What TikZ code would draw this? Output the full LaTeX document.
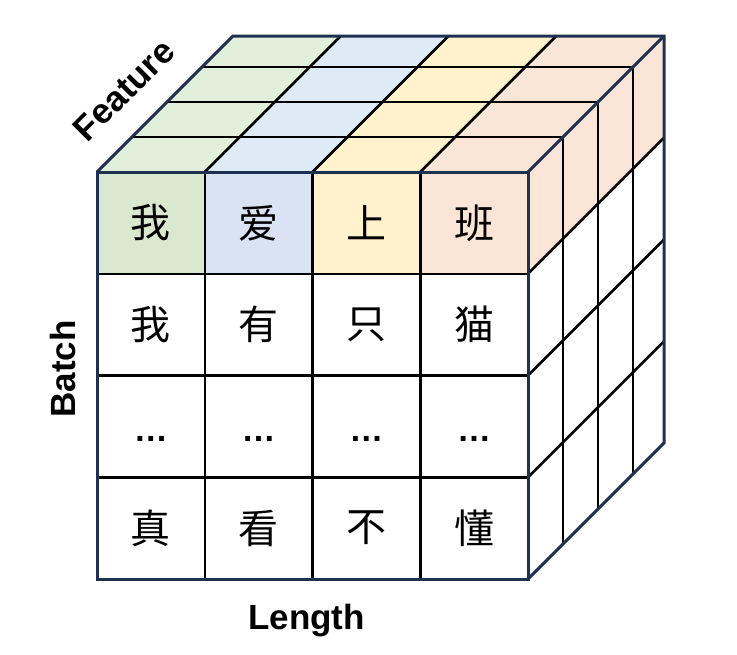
\documentclass[tikz,border=0pt]{standalone}
\usepackage{fontspec}
\setmainfont{Liberation Sans}
\newfontfamily\cjk{Noto Sans CJK SC}
\definecolor{navy}{HTML}{1F3150}
\definecolor{gtop}{HTML}{E2EFDA}
\definecolor{gfront}{HTML}{DAE8CF}
\definecolor{btop}{HTML}{DEEBF7}
\definecolor{bfront}{HTML}{DAE3F3}
\definecolor{ytop}{HTML}{FFF2CC}
\definecolor{ptop}{HTML}{FBE5D6}
\begin{document}
\begin{tikzpicture}[x=1pt,y=-1pt,
  outer/.style={draw=navy,line width=3pt,line join=miter},
  inner/.style={draw=black,line width=2.5pt},
  cell/.style={font=\cjk\fontsize{40}{44}\selectfont,inner sep=0pt},
  dots/.style={font=\bfseries\fontsize{34}{40}\selectfont,inner sep=0pt,anchor=base},
  lbl/.style={font=\bfseries\fontsize{35}{40}\selectfont,inner sep=0pt}]
\useasboundingbox (0,0) rectangle (737,654);
\def\W{107.75}
\def\H{101.75}
% top face fills
\fill[gtop] (97,172) -- ++(\W,0) -- ++(136,-136) -- ++(-\W,0) -- cycle;
\fill[btop] ({97+\W},172) -- ++(\W,0) -- ++(136,-136) -- ++(-\W,0) -- cycle;
\fill[ytop] ({97+2*\W},172) -- ++(\W,0) -- ++(136,-136) -- ++(-\W,0) -- cycle;
\fill[ptop] ({97+3*\W},172) -- ++(\W,0) -- ++(136,-136) -- ++(-\W,0) -- cycle;
% right face top row
\fill[ptop] (528,172) -- (664,36) -- (664,{36+\H}) -- (528,{172+\H}) -- cycle;
% front top row
\fill[gfront] (97,172) rectangle ++(\W,\H);
\fill[bfront] ({97+\W},172) rectangle ++(\W,\H);
\fill[ytop] ({97+2*\W},172) rectangle ++(\W,\H);
\fill[ptop] ({97+3*\W},172) rectangle ++(\W,\H);
% inner lines
\foreach \i in {1,2,3}{
  \draw[inner] ({97+\i*\W},172) -- ({97+\i*\W},579);
  \draw[inner] (97,{172+\i*\H}) -- (528,{172+\i*\H});
  \draw[inner] ({97+\i*\W},172) -- ({233+\i*\W},36);
  \draw[inner] (528,{172+\i*\H}) -- (664,{36+\i*\H});
}
\foreach \d in {35,70,105}{
  \draw[inner] ({97+\d},{172-\d}) -- ({528+\d},{172-\d}) -- ({528+\d},{579-\d});
}
% outer edges
\draw[outer] (97,172) rectangle (528,579);
\draw[outer] (97,172) -- (233,36) -- (664,36) -- (664,443) -- (528,579);
\draw[outer] (528,172) -- (664,36);
% cell texts
\node[cell] (a1) at ({97+0.5*\W},{172+0.5*\H}) {我};
\node[cell] (a2) at ({97+1.5*\W},{172+0.5*\H}) {爱};
\node[cell] (a3) at ({97+2.5*\W},{172+0.5*\H}) {上};
\node[cell] (a4) at ({97+3.5*\W},{172+0.5*\H}) {班};
\node[cell] (b1) at ({97+0.5*\W},{172+1.5*\H}) {我};
\node[cell] (b2) at ({97+1.5*\W},{172+1.5*\H}) {有};
\node[cell] (b3) at ({97+2.5*\W},{172+1.5*\H}) {只};
\node[cell] (b4) at ({97+3.5*\W},{172+1.5*\H}) {猫};
\node[dots] (c1) at ({97+0.5*\W},441) {…};
\node[dots] (c2) at ({97+1.5*\W},441) {…};
\node[dots] (c3) at ({97+2.5*\W},441) {…};
\node[dots] (c4) at ({97+3.5*\W},441) {…};
\node[cell] (d1) at ({97+0.5*\W},{172+3.5*\H}) {真};
\node[cell] (d2) at ({97+1.5*\W},{172+3.5*\H}) {看};
\node[cell] (d3) at ({97+2.5*\W},{172+3.5*\H}) {不};
\node[cell] (d4) at ({97+3.5*\W},{172+3.5*\H}) {懂};
% axis labels
\node[lbl,anchor=base] (len) at (306.5,629) {Length};
\node[lbl,rotate=90] (bat) at (63,369) {Batch};
\node[lbl,rotate=45] (fea) at (124,90) {Feature};
\end{tikzpicture}
\end{document}
